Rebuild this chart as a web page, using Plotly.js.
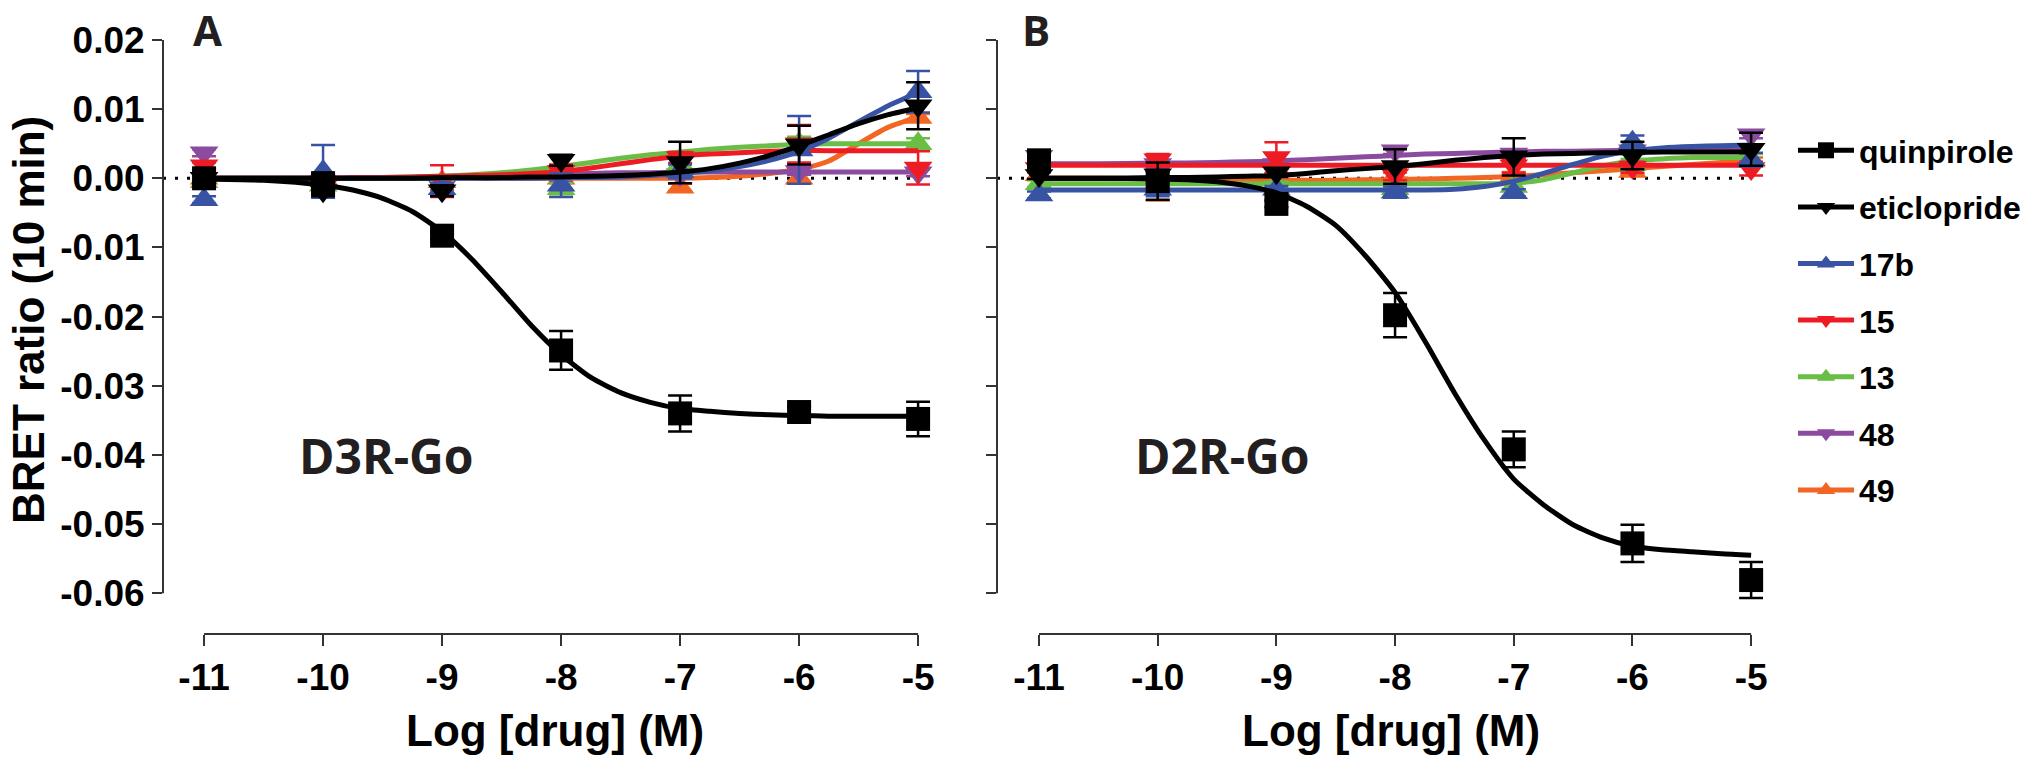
<!DOCTYPE html>
<html><head><meta charset="utf-8">
<script src="https://cdn.plot.ly/plotly-3.0.1.min.js"></script>
<style>html,body{margin:0;padding:0;background:#fff}</style>
</head><body><div id="chart" style="width:2040px;height:759px"></div>
<script>
// ---------- data ----------
const logDose = [-11, -10, -9, -8, -7, -6, -5];
const xTickText = ['-11', '-10', '-9', '-8', '-7', '-6', '-5'];
const yTickVals = [-0.06, -0.05, -0.04, -0.03, -0.02, -0.01, 0, 0.01, 0.02];
const yTickText = ['-0.06', '-0.05', '-0.04', '-0.03', '-0.02', '-0.01', '0.00', '0.01', '0.02'];
const fitX = [-11, -10.5, -10, -9.75, -9.5, -9.25, -9, -8.75, -8.5, -8.25, -8, -7.75, -7.5, -7.25, -7, -6.75, -6.5, -6.25, -6, -5.75, -5.5, -5.25, -5];

const compounds = ['quinpirole', 'eticlopride', '17b', '15', '13', '48', '49'];
const colors = ['#000000', '#000000', '#3953a4', '#ed1c24', '#6abd45', '#8b4b9e', '#f26522'];
const symbols = ['square', 'triangle-down', 'triangle-up', 'triangle-down', 'triangle-up', 'triangle-down', 'triangle-up'];

// Panel A : D3R-Go
const d3_quinpirole     = [0.0000, -0.0007, -0.0083, -0.0249, -0.0340, -0.0338, -0.0348];
const d3_quinpirole_sem = [0.0005, 0.0009, 0.0005, 0.0028, 0.0026, 0.0008, 0.0025];
const d3_quinpirole_fit = [-0.0001, -0.0003, -0.0010, -0.0017, -0.0029, -0.0048, -0.0077, -0.0117, -0.0164, -0.0213, -0.0255, -0.0288, -0.0310, -0.0324, -0.0333, -0.0337, -0.0340, -0.0342, -0.0343, -0.0344, -0.0344, -0.0344, -0.0344];
const d3_eticlopride     = [0.0000, -0.0018, -0.0018, 0.0026, 0.0023, 0.0048, 0.0105];
const d3_eticlopride_sem = [0.0005, 0.0008, 0.0008, 0.0008, 0.0030, 0.0028, 0.0034];
const d3_eticlopride_fit = [0, 0, 0, 0, 0, 0, 0.0001, 0.0001, 0.0001, 0.0002, 0.0002, 0.0003, 0.0004, 0.0006, 0.0009, 0.0014, 0.0022, 0.0033, 0.0047, 0.0063, 0.0079, 0.0092, 0.0102];
const d3_17b     = [-0.0031, 0.0010, -0.0015, -0.0010, 0.0010, 0.0041, 0.0125];
const d3_17b_sem = [0.0005, 0.0038, 0.0008, 0.0017, 0.0010, 0.0049, 0.0030];
const d3_17b_fit = [0, 0, 0, 0, 0, 0, 0, 0, 0, 0, 0.0001, 0.0001, 0.0002, 0.0004, 0.0007, 0.0011, 0.0017, 0.0026, 0.0039, 0.0058, 0.0082, 0.0105, 0.0124];
const d3_15     = [0.0018, -0.0012, -0.0004, 0.0010, 0.0030, 0.0050, 0.0015];
const d3_15_sem = [0.0005, 0.0010, 0.0023, 0.0010, 0.0008, 0.0027, 0.0024];
const d3_15_fit = [0, 0, 0, 0.0001, 0.0001, 0.0002, 0.0003, 0.0004, 0.0005, 0.0007, 0.0010, 0.0015, 0.0021, 0.0027, 0.0032, 0.0035, 0.0037, 0.0039, 0.0040, 0.0040, 0.0040, 0.0040, 0.0040];
const d3_13     = [-0.0005, -0.0010, -0.0015, -0.0015, 0.0020, 0.0050, 0.0050];
const d3_13_sem = [0.0005, 0.0005, 0.0010, 0.0008, 0.0010, 0.0010, 0.0008];
const d3_13_fit = [0, 0, 0, 0, 0.0001, 0.0002, 0.0003, 0.0005, 0.0008, 0.0012, 0.0017, 0.0023, 0.0029, 0.0034, 0.0038, 0.0042, 0.0045, 0.0047, 0.0049, 0.0050, 0.0050, 0.0050, 0.0050];
const d3_48     = [0.0037, -0.0005, -0.0012, 0.0000, 0.0005, 0.0010, 0.0008];
const d3_48_sem = [0.0005, 0.0005, 0.0005, 0.0005, 0.0005, 0.0005, 0.0005];
const d3_48_fit = [0, 0, 0, 0, 0.0001, 0.0001, 0.0002, 0.0003, 0.0004, 0.0005, 0.0006, 0.0007, 0.0008, 0.0008, 0.0009, 0.0009, 0.0009, 0.0009, 0.0009, 0.0009, 0.0009, 0.0009, 0.0009];
const d3_49     = [0.0000, 0.0000, -0.0005, 0.0000, -0.0013, 0.0000, 0.0088];
const d3_49_sem = [0.0005, 0.0005, 0.0005, 0.0005, 0.0005, 0.0005, 0.0005];
const d3_49_fit = [0, 0, 0, 0, 0, 0, 0, 0, 0, 0, 0, 0, 0, 0, 0, 0.0001, 0.0003, 0.0007, 0.0013, 0.0025, 0.0050, 0.0074, 0.0089];

// Panel B : D2R-Go
const d2_quinpirole     = [0.0026, -0.0004, -0.0037, -0.0198, -0.0392, -0.0528, -0.0581];
const d2_quinpirole_sem = [0.0006, 0.0027, 0.0005, 0.0032, 0.0026, 0.0027, 0.0026];
const d2_quinpirole_fit = [0.0000, 0.0000, -0.0001, -0.0002, -0.0005, -0.0011, -0.0021, -0.0040, -0.0068, -0.0112, -0.0165, -0.0235, -0.0310, -0.0378, -0.0435, -0.0472, -0.0501, -0.0520, -0.0532, -0.0537, -0.0540, -0.0543, -0.0545];
const d2_eticlopride     = [0.0004, 0.0005, 0.0008, 0.0017, 0.0031, 0.0033, 0.0042];
const d2_eticlopride_sem = [0.0005, 0.0005, 0.0006, 0.0025, 0.0027, 0.0020, 0.0024];
const d2_eticlopride_fit = [0.0000, 0.0000, 0.0001, 0.0001, 0.0002, 0.0003, 0.0004, 0.0007, 0.0011, 0.0014, 0.0017, 0.0021, 0.0026, 0.0030, 0.0033, 0.0035, 0.0036, 0.0037, 0.0037, 0.0038, 0.0038, 0.0038, 0.0038];
const d2_17b     = [-0.0024, -0.0016, -0.0016, -0.0020, -0.0021, 0.0052, 0.0027];
const d2_17b_sem = [0.0005, 0.0010, 0.0005, 0.0008, 0.0005, 0.0010, 0.0010];
const d2_17b_fit = [-0.0017, -0.0017, -0.0017, -0.0017, -0.0017, -0.0017, -0.0017, -0.0017, -0.0017, -0.0017, -0.0017, -0.0017, -0.0016, -0.0012, -0.0004, 0.0007, 0.0020, 0.0032, 0.0040, 0.0044, 0.0046, 0.0047, 0.0048];
const d2_15     = [0.0014, 0.0027, 0.0030, 0.0005, 0.0018, 0.0016, 0.0014];
const d2_15_sem = [0.0005, 0.0008, 0.0022, 0.0008, 0.0010, 0.0008, 0.0010];
const d2_15_fit = [0.0019, 0.0019, 0.0019, 0.0019, 0.0019, 0.0019, 0.0019, 0.0019, 0.0019, 0.0019, 0.0019, 0.0019, 0.0019, 0.0019, 0.0019, 0.0019, 0.0019, 0.0019, 0.0019, 0.0019, 0.0019, 0.0019, 0.0019];
const d2_13     = [-0.0008, -0.0010, -0.0010, -0.0015, -0.0012, 0.0020, 0.0027];
const d2_13_sem = [0.0005, 0.0005, 0.0005, 0.0005, 0.0005, 0.0008, 0.0008];
const d2_13_fit = [-0.0008, -0.0008, -0.0008, -0.0008, -0.0008, -0.0008, -0.0008, -0.0008, -0.0008, -0.0008, -0.0008, -0.0008, -0.0008, -0.0008, -0.0007, -0.0002, 0.0008, 0.0018, 0.0025, 0.0028, 0.0030, 0.0030, 0.0030];
const d2_48     = [0.0032, 0.0020, 0.0020, 0.0040, 0.0035, 0.0040, 0.0063];
const d2_48_sem = [0.0005, 0.0005, 0.0005, 0.0005, 0.0005, 0.0005, 0.0005];
const d2_48_fit = [0.0021, 0.0021, 0.0022, 0.0022, 0.0023, 0.0024, 0.0025, 0.0027, 0.0029, 0.0031, 0.0033, 0.0035, 0.0036, 0.0037, 0.0038, 0.0039, 0.0039, 0.0040, 0.0040, 0.0040, 0.0041, 0.0041, 0.0041];
const d2_49     = [0.0005, -0.0008, 0.0000, 0.0003, 0.0004, 0.0010, 0.0025];
const d2_49_sem = [0.0005, 0.0024, 0.0005, 0.0005, 0.0005, 0.0005, 0.0005];
const d2_49_fit = [0.0000, 0.0000, -0.0001, -0.0002, -0.0003, -0.0003, -0.0003, -0.0003, -0.0003, -0.0002, -0.0002, -0.0001, 0.0000, 0.0001, 0.0003, 0.0005, 0.0008, 0.0011, 0.0014, 0.0017, 0.0020, 0.0023, 0.0025];

// ---------- assembly ----------
const panelA = {
  quinpirole: [d3_quinpirole, d3_quinpirole_sem, d3_quinpirole_fit],
  eticlopride: [d3_eticlopride, d3_eticlopride_sem, d3_eticlopride_fit],
  '17b': [d3_17b, d3_17b_sem, d3_17b_fit],
  '15': [d3_15, d3_15_sem, d3_15_fit],
  '13': [d3_13, d3_13_sem, d3_13_fit],
  '48': [d3_48, d3_48_sem, d3_48_fit],
  '49': [d3_49, d3_49_sem, d3_49_fit]
};
const panelB = {
  quinpirole: [d2_quinpirole, d2_quinpirole_sem, d2_quinpirole_fit],
  eticlopride: [d2_eticlopride, d2_eticlopride_sem, d2_eticlopride_fit],
  '17b': [d2_17b, d2_17b_sem, d2_17b_fit],
  '15': [d2_15, d2_15_sem, d2_15_fit],
  '13': [d2_13, d2_13_sem, d2_13_fit],
  '48': [d2_48, d2_48_sem, d2_48_fit],
  '49': [d2_49, d2_49_sem, d2_49_fit]
};

const W = 2040, H = 759;
const px = v => v / W;
const py = v => 1 - v / H;
const FONT = 'Liberation Sans, Arial, Helvetica, sans-serif';
const MSIZE = {square: 24, 'triangle-up': 25, 'triangle-down': 25};
const drawOrder = [6, 5, 4, 3, 2, 1, 0];
const traces = [];

function addPanel(panel, xa, ya) {
  drawOrder.forEach(i => {
    const name = compounds[i];
    const [vals, sem, fit] = panel[name];
    traces.push({
      type: 'scatter', mode: 'lines', x: fitX, y: fit, xaxis: xa, yaxis: ya,
      line: {color: colors[i], width: 5, shape: 'spline', smoothing: 0.6},
      showlegend: false, hoverinfo: 'skip', cliponaxis: false, legendgroup: name
    });
    traces.push({
      type: 'scatter', mode: 'markers', x: logDose, y: vals, xaxis: xa, yaxis: ya,
      marker: {symbol: symbols[i], size: MSIZE[symbols[i]], color: colors[i], line: {width: 0}},
      error_y: {type: 'data', array: sem, visible: true, color: colors[i], thickness: 2.5, width: 12},
      showlegend: false, cliponaxis: false, legendgroup: name
    });
  });
}
addPanel(panelA, 'x', 'y');
addPanel(panelB, 'x2', 'y2');

// legend entries
compounds.forEach((name, i) => {
  traces.push({
    type: 'scatter', mode: 'lines+markers', x: [null], y: [null], xaxis: 'x2', yaxis: 'y2',
    name: name, legendgroup: name, showlegend: true,
    line: {color: colors[i], width: 5},
    marker: {symbol: symbols[i], size: MSIZE[symbols[i]], color: colors[i]}
  });
});

const xr = [-11.345, -4.9];
const xr2 = [-11.354, -4.9];
const yr = [-0.0659, 0.02];
const tickFont = {family: FONT, size: 37, color: '#000', weight: 'bold'};
const axisCommon = {showline: false, showgrid: false, zeroline: false, ticks: 'outside', tickwidth: 2, tickcolor: '#333', fixedrange: true};

const layout = {
  width: W, height: H, margin: {l: 0, r: 0, t: 0, b: 0},
  paper_bgcolor: '#fff', plot_bgcolor: 'rgba(0,0,0,0)',
  font: {family: FONT, color: '#000'},
  xaxis: Object.assign({}, axisCommon, {domain: [px(163), px(930)], range: xr, anchor: 'y', tickvals: logDose, ticktext: xTickText, ticklen: 11, tickfont: tickFont}),
  yaxis: Object.assign({}, axisCommon, {domain: [py(634), py(40)], range: yr, anchor: 'x', tickvals: yTickVals, ticktext: yTickText, ticklen: 10, tickfont: tickFont}),
  xaxis2: Object.assign({}, axisCommon, {domain: [px(997), px(1763)], range: xr2, anchor: 'y2', tickvals: logDose, ticktext: xTickText, ticklen: 11, tickfont: tickFont}),
  yaxis2: Object.assign({}, axisCommon, {domain: [py(634), py(40)], range: yr, anchor: 'x2', tickvals: yTickVals, showticklabels: false, ticklen: 10}),
  showlegend: true,
  legend: {
    x: px(1793), y: py(123), xanchor: 'left', yanchor: 'top',
    font: {family: FONT, size: 32, color: '#000', weight: 'bold'},
    bgcolor: 'rgba(0,0,0,0)', borderwidth: 0, tracegroupgap: 12, traceorder: 'grouped', itemwidth: 56
  },
  shapes: [
    {type: 'line', xref: 'x domain', yref: 'y', x0: 0, x1: 0, y0: yTickVals[0], y1: yTickVals[yTickVals.length - 1], line: {color: '#333', width: 2}},
    {type: 'line', xref: 'x', yref: 'y domain', x0: logDose[0], x1: logDose[logDose.length - 1], y0: 0, y1: 0, line: {color: '#333', width: 2}},
    {type: 'line', xref: 'x2 domain', yref: 'y2', x0: 0, x1: 0, y0: yTickVals[0], y1: yTickVals[yTickVals.length - 1], line: {color: '#333', width: 2}},
    {type: 'line', xref: 'x2', yref: 'y2 domain', x0: logDose[0], x1: logDose[logDose.length - 1], y0: 0, y1: 0, line: {color: '#333', width: 2}},
    {type: 'line', xref: 'x', yref: 'y', x0: xr[0], x1: logDose[logDose.length - 1], y0: 0, y1: 0, layer: 'below', line: {color: '#000', width: 3, dash: '3px,9px'}},
    {type: 'line', xref: 'x2', yref: 'y2', x0: xr2[0], x1: logDose[logDose.length - 1], y0: 0, y1: 0, layer: 'below', line: {color: '#000', width: 3, dash: '3px,9px'}}
  ],
  annotations: [
    {text: 'BRET ratio (10 min)', xref: 'paper', yref: 'paper', x: px(29), y: py(320), textangle: -90, showarrow: false, xanchor: 'center', yanchor: 'middle', font: {family: FONT, size: 44, color: '#000', weight: 'bold'}},
    {text: 'Log [drug] (M)', xref: 'paper', yref: 'paper', x: px(555), y: py(730), showarrow: false, xanchor: 'center', yanchor: 'middle', font: {family: FONT, size: 44, color: '#000', weight: 'bold'}},
    {text: 'Log [drug] (M)', xref: 'paper', yref: 'paper', x: px(1391), y: py(730), showarrow: false, xanchor: 'center', yanchor: 'middle', font: {family: FONT, size: 44, color: '#000', weight: 'bold'}},
    {text: 'A', xref: 'paper', yref: 'paper', x: px(207), y: 1, showarrow: false, xanchor: 'center', yanchor: 'top', borderpad: 0, font: {family: 'Open Sans, sans-serif', size: 42, color: '#231f20', weight: 'bold'}},
    {text: 'B', xref: 'paper', yref: 'paper', x: px(1036), y: 1, showarrow: false, xanchor: 'center', yanchor: 'top', borderpad: 0, font: {family: 'Open Sans, sans-serif', size: 42, color: '#231f20', weight: 'bold'}},
    {text: 'D3R-Go', xref: 'paper', yref: 'paper', x: px(386), y: py(455), showarrow: false, xanchor: 'center', yanchor: 'middle', font: {family: 'Open Sans, sans-serif', size: 48, color: '#231f20', weight: 'bold'}},
    {text: 'D2R-Go', xref: 'paper', yref: 'paper', x: px(1222), y: py(455), showarrow: false, xanchor: 'center', yanchor: 'middle', font: {family: 'Open Sans, sans-serif', size: 48, color: '#231f20', weight: 'bold'}}
  ]
};

Plotly.newPlot('chart', traces, layout, {displayModeBar: false, staticPlot: true});
</script>
</body></html>
